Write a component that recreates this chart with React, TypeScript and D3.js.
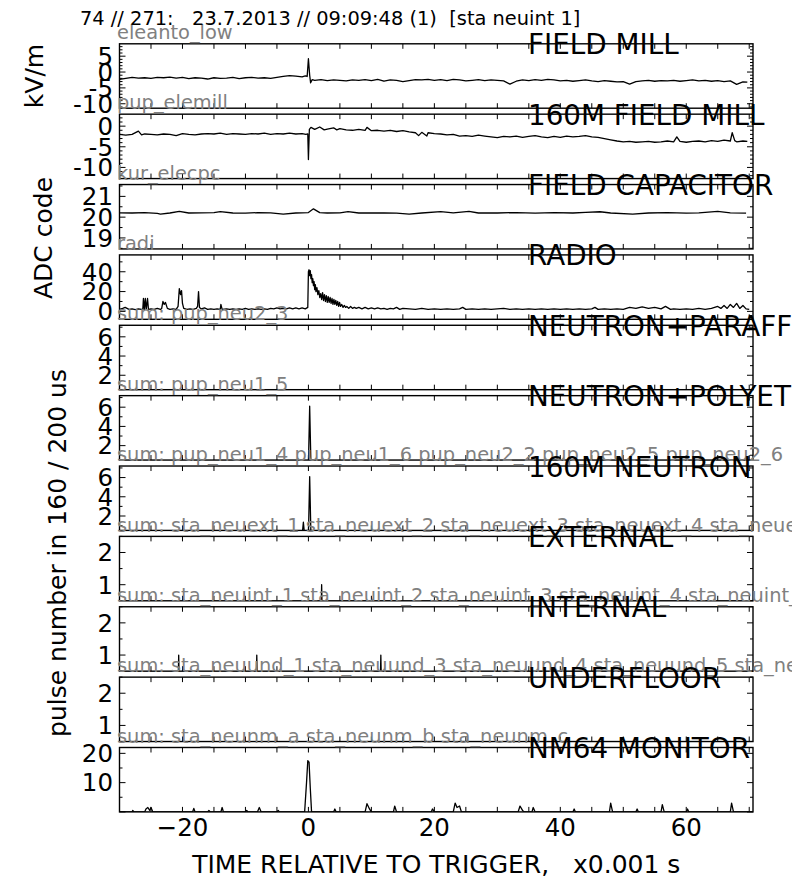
import React from 'react';
import * as d3 from 'd3';

// ---------- layout constants ----------
const W = 792;
const H = 882;
const X0 = 119.5;
const X1 = 753;
const T_DOMAIN: [number, number] = [-30, 70.6];
const PANEL_TOP0 = 43.8;
const PANEL_STEP = 70.37;
const PANEL_H = 64.4;

// ---------- text ----------
const headerText = '74 // 271:   23.7.2013 // 09:09:48 (1)  [sta neuint 1]';
const panelTitles = [
  'FIELD MILL', '160M FIELD MILL', 'FIELD CAPACITOR', 'RADIO', 'NEUTRON+PARAFF',
  'NEUTRON+POLYET', '160M NEUTRON', 'EXTERNAL', 'INTERNAL', 'UNDERFLOOR', 'NM64 MONITOR',
];
const channelLabels = [
  'eleanto_low',
  'pup_elemill',
  'kur_elecpc',
  'radi',
  'sum: pup_neu2_3',
  'sum: pup_neu1_5',
  'sum: pup_neu1_4 pup_neu1_6 pup_neu2_2 pup_neu2_5 pup_neu2_6',
  'sum: sta_neuext_1 sta_neuext_2 sta_neuext_3 sta_neuext_4 sta_neuext_5',
  'sum: sta_neuint_1 sta_neuint_2 sta_neuint_3 sta_neuint_4 sta_neuint_5',
  'sum: sta_neuund_1 sta_neuund_3 sta_neuund_4 sta_neuund_5 sta_neuund_6',
  'sum: sta_neunm_a sta_neunm_b sta_neunm_c',
];
const xTickValues = [-20, 0, 20, 40, 60];
const xLabel = 'TIME RELATIVE TO TRIGGER,   x0.001 s';

// ---------- y axes ----------
const yDomains: [number, number][] = [
  [-11.4, 8.9], [-12.7, 2.9], [18.47, 21.57], [-8, 57], [0.5, 7.2],
  [0.5, 7.2], [0.5, 7.2], [0.5, 2.5], [0.5, 2.5], [0.5, 2.5], [0, 22],
];
const yTickValues = [
  [5, 0, -5, -10], [0, -5, -10], [21, 20, 19], [40, 20, 0], [6, 4, 2],
  [6, 4, 2], [6, 4, 2], [2, 1], [2, 1], [2, 1], [20, 10],
];
const yMajorStep = [5, 5, 1, 20, 2, 2, 2, 1, 1, 1, 10];
const yMinorStep = [1, 1, 0.5, 10, 1, 1, 1, 0.5, 0.5, 0.5, 5];

// ---------- data ----------
const fieldMillT = [-30, -29, -28, -27, -26, -25, -24, -23, -22, -21, -20, -19, -18, -17, -16, -15, -14, -13, -12, -11, -10, -9, -8, -7, -6, -5, -4, -3, -2, -1, -0.5, -0.2, 0, 0.2, 0.35, 0.6, 1, 2, 3, 4, 5, 6, 7, 8, 9, 10, 11, 12, 13, 14, 15, 16, 17, 18, 19, 20, 21, 22, 23, 24, 25, 26, 27, 28, 29, 30, 31, 32, 33, 34, 35, 36, 37, 38, 39, 40, 41, 42, 43, 44, 45, 46, 47, 48, 49, 50, 51, 52, 53, 54, 55, 56, 57, 58, 59, 60, 61, 62, 63, 64, 65, 66, 67, 68, 69, 69.7];
const fieldMillV = [-2.3, -2.0, -1.7, -1.9, -1.8, -2.0, -1.7, -1.8, -1.6, -1.9, -1.7, -2.1, -1.8, -1.9, -2.2, -1.8, -2.0, -1.9, -1.7, -2.1, -1.8, -1.7, -1.9, -1.8, -2.0, -1.7, -1.4, -1.1, -1.3, -1.5, -1.2, -1.4, 4.2, -1.0, -3.4, -2.4, -2.6, -2.4, -2.7, -2.5, -2.6, -2.8, -2.5, -2.6, -2.4, -2.7, -2.3, -2.9, -2.5, -2.6, -3.0, -2.7, -2.4, -2.5, -2.3, -2.6, -2.4, -2.7, -2.3, -2.5, -2.8, -2.6, -2.4, -2.7, -2.5, -2.6, -2.8, -3.8, -2.9, -2.5, -2.7, -2.4, -2.6, -2.3, -2.5, -2.8, -2.6, -2.9, -2.7, -2.5, -2.8, -3.0, -2.7, -2.9, -3.1, -3.0, -3.8, -3.0, -2.8, -2.6, -2.9, -2.7, -2.8, -2.6, -2.9, -2.7, -2.5, -2.8, -2.6, -2.9, -2.7, -3.0, -2.8, -3.9, -3.1, -3.2];

const mill160T = [-30, -29, -28, -27, -26.5, -26, -25, -24, -23, -22, -21, -20, -19, -18, -17, -16, -15, -14, -13, -12, -11, -10, -9, -8, -7, -6, -5, -4, -3, -2, -1, -0.4, -0.1, 0, 0.15, 0.4, 1, 1.8, 2.5, 3, 4, 4.5, 5, 6, 7, 8, 9, 9.3, 10, 11, 12, 13, 14, 15, 16, 17, 17.5, 18, 18.8, 19, 20, 21, 22, 23, 24, 25, 26, 27, 28, 29, 30, 31, 32, 33, 34, 35, 36, 37, 38, 39, 40, 41, 42, 43, 44, 45, 46, 47, 48, 49, 50, 51, 52, 53, 54, 55, 56, 57, 58, 58.5, 59, 60, 61, 62, 63, 64, 65, 66, 67, 67.3, 67.7, 68, 69, 69.7];
const mill160V = [-2.0, -2.2, -2.0, -1.2, -2.1, -1.9, -2.0, -2.1, -1.9, -2.0, -2.3, -1.8, -2.0, -2.1, -1.9, -1.8, -1.9, -1.7, -2.0, -1.8, -1.9, -2.0, -1.8, -1.9, -1.7, -2.0, -1.8, -1.9, -1.7, -1.9, -1.8, -2.0, -1.9, -8.1, -0.8, -0.3, -0.8, -0.2, -0.9, -0.7, -0.4, -0.9, -0.6, -0.9, -1.0, -0.8, -1.0, -0.3, -1.1, -1.0, -1.2, -1.0, -1.3, -1.1, -1.4, -1.6, -2.3, -1.5, -2.4, -1.6, -1.8, -1.9, -2.1, -2.0, -2.4, -2.3, -2.5, -2.2, -2.4, -2.6, -2.8, -2.5, -2.6, -2.4, -2.7, -2.5, -2.3, -2.6, -2.8, -2.5, -2.7, -2.4, -2.6, -2.5, -2.3, -2.6, -2.7, -3.0, -3.3, -3.6, -3.8, -3.7, -3.9, -3.8, -3.7, -3.9, -3.8, -3.6, -3.8, -2.6, -3.7, -3.9, -3.7, -3.6, -3.8, -3.5, -3.7, -3.4, -3.6, -1.6, -3.5, -3.8, -3.6, -3.7];

const capacitorT = [-30, -28, -26, -24, -23.5, -22, -20.5, -19, -17, -15, -14, -12, -10, -8, -6, -4, -2, 0, 0.8, 1.8, 3, 5, 6.3, 8, 10, 12, 14, 16, 18, 21, 23, 25.5, 27, 30, 33, 36, 39, 42, 44, 46.3, 48, 51.5, 54, 57, 60, 62, 65, 67, 69.5];
const capacitorV = [20.21, 20.2, 20.22, 20.18, 20.15, 20.2, 20.28, 20.2, 20.21, 20.22, 20.27, 20.2, 20.19, 20.22, 20.21, 20.15, 20.2, 20.22, 20.4, 20.22, 20.2, 20.21, 20.27, 20.2, 20.21, 20.2, 20.19, 20.15, 20.2, 20.27, 20.21, 20.28, 20.2, 20.2, 20.22, 20.19, 20.22, 20.2, 20.23, 20.26, 20.2, 20.15, 20.2, 20.22, 20.19, 20.21, 20.28, 20.21, 20.19];

const radioT = [
  -30, -29.5, -29.1, -28.5, -28, -27.5, -27, -26.5, -26.3, -26.2, -26.05, -25.9, -25.75, -25.55, -25.4, -25, -24.5, -24, -23.5, -23.3, -23.1, -22.9, -22.7, -22.4, -22, -21.5, -21, -20.7, -20.5, -20.3, -20.15, -20, -19.8, -19.3, -18.8, -18.3, -17.8, -17.6, -17.45, -17.3, -17, -16.5, -16, -15.5, -15, -14.5, -14, -13.9, -13.7, -13, -12.5, -12, -11.5, -11, -10.5, -10, -9.5, -9, -8.5, -8, -7.5, -7, -6.5, -6, -5.5, -5, -4.5, -4, -3.5, -3, -2.5, -2, -1.5, -1, -0.5, -0.1,
  0, 0.1, 0.2, 0.3, 0.4, 0.5, 0.6, 0.7, 0.8, 0.9, 1.0, 1.1, 1.2, 1.35, 1.5, 1.65, 1.8, 1.95, 2.1, 2.25, 2.4, 2.55, 2.7, 2.85, 3.0, 3.15, 3.3, 3.45, 3.6, 3.75, 3.9, 4.05, 4.2, 4.35, 4.5, 4.65, 4.8, 4.95, 5.1, 5.3, 5.5, 5.7, 5.9, 6.1, 6.4, 6.7, 7, 7.3, 7.6, 8, 8.5, 9, 9.5, 10,
  10.5, 11, 11.5, 12, 12.5, 13, 13.5, 14, 14.5, 15, 16, 17, 18, 19, 20, 21, 22, 23, 24, 24.5, 25, 26, 27, 28, 29, 30, 31, 32, 33, 34, 35, 36, 37, 38, 39, 40, 41, 42, 43, 44, 45, 45.5, 46, 47, 48, 49, 50, 51, 52, 53, 54, 55, 56, 56.7, 57.5, 58, 59, 60, 61, 62, 63, 64, 65, 65.5, 66, 66.5, 67, 67.5, 68, 68.5, 69, 69.5, 70,
];
const radioV = [
  2, 3, 4, 2, 2.5, 1.8, 2.5, 2, 2, 13, 2, 13, 2, 13, 2, 2.5, 2, 3, 2, 3, 10, 7, 9, 3, 2, 2.5, 2, 5, 23, 17, 21, 8, 3, 2, 2.5, 2, 3, 5, 20, 4, 2.5, 3.5, 2, 2.5, 2, 2.5, 2, 7, 2, 2.5, 2, 2.5, 2, 2.5, 2, 3, 2, 2.5, 2, 2.5, 2, 2.5, 2, 3, 2.5, 3.5, 2.5, 3, 2.5, 3.5, 2.5, 3.5, 2.5, 3.5, 2.5, 4,
  40, 42, 36, 41, 33, 37, 29, 33, 26, 30, 22, 27, 20, 24, 17, 21, 14, 18, 12, 19, 11, 17, 10, 16, 9, 15, 9, 14, 8, 13, 7, 12, 7, 11, 6, 10, 5, 9, 5, 7, 4, 6, 4, 5, 3, 5, 3, 4, 3, 4, 2.5, 4, 2.5, 3.5,
  2.5, 3.5, 2.5, 3, 2, 3, 2.5, 4, 2, 3, 2.5, 2, 3, 2, 2.5, 2, 2.5, 2, 2.5, 4, 2, 2.5, 2, 2.5, 2, 2.5, 3, 2, 2.5, 2, 2.5, 2, 2.5, 2, 2.5, 2, 2.5, 2, 2.5, 2, 2.5, 4, 2, 2.5, 2, 2.5, 2, 4, 3, 4.5, 3, 4, 2.5, 5, 2, 2.5, 2, 2.5, 2, 3, 2, 3, 5, 3, 6, 3, 7, 4, 8, 3, 6, 2.5, 2,
];

const neuPolyT = [-30, 0, 0.2, 0.4, 70.6];
const neuPolyV = [0, 0, 6.1, 0, 0];

const neu160T = [-30, -1.0, -0.8, -0.6, 0, 0.2, 0.4, 70.6];
const neu160V = [0, 0, 1.35, 0, 0, 6.1, 0, 0];

const externalT = [-30, 2.0, 2.1, 2.2, 70.6];
const externalV = [0, 0, 1, 0, 0];

const internalT = [-30, -20.7, -20.6, -20.5, -8.3, -8.2, -8.1, 11.4, 11.5, 11.6, 70.6];
const internalV = [0, 0, 1, 0, 0, 1, 0, 0, 1, 0, 0];

const nm64T = [-30, -28, -27.9, -27.7, -26, -25.8, -25.5, -25.2, -25, -24.7, -22, -18.4, -18.2, -18, -16, -15.8, -15.6, -13.9, -13.7, -13.5, -10, -9.8, -9.6, -8.1, -7.8, -7.5, -5, -4.8, -4.6, -0.6, -0.3, -0.1, 0.1, 0.3, 0.5, 4, 4.2, 4.4, 9, 9.3, 9.7, 10, 13.5, 13.7, 14, 19.5, 19.7, 20, 23, 23.3, 23.6, 24, 24.3, 33.3, 33.6, 34, 34.3, 35.5, 35.7, 36, 42, 42.2, 42.4, 47.8, 48, 48.3, 52, 52.2, 52.4, 56, 56.2, 56.5, 60, 60.2, 60.4, 67, 67.2, 67.5, 70.6];
const nm64V = [0, 0, 0.5, 0, 0, 1, 1.5, 0.5, 1.5, 0, 0, 0, 1.2, 0, 0, 0.5, 0, 0, 1.5, 0, 0, 0.5, 0, 0, 1.5, 0, 0, 0.5, 0, 0, 10, 17.5, 17, 8, 0, 0, 1, 0, 0, 2.8, 1, 0, 0, 2, 0, 0, 1, 0, 0, 3, 1.5, 2, 0, 0, 2, 0.5, 0, 0, 1.5, 0, 0, 1, 0, 0, 3, 0, 0, 1, 0, 0, 2.5, 0, 0, 1, 0, 0, 3, 0, 0];

const seriesT: (number[] | null)[] = [fieldMillT, mill160T, capacitorT, radioT, null, neuPolyT, neu160T, externalT, internalT, null, nm64T];
const seriesV: (number[] | null)[] = [fieldMillV, mill160V, capacitorV, radioV, null, neuPolyV, neu160V, externalV, internalV, null, nm64V];

const FONT = 'DejaVu Sans, Verdana, sans-serif';

function stepTicks(domain: [number, number], step: number): number[] {
  const out: number[] = [];
  const lo = Math.min(domain[0], domain[1]);
  const hi = Math.max(domain[0], domain[1]);
  const start = Math.ceil(lo / step - 1e-9);
  for (let k = start; k * step <= hi + 1e-9; k++) out.push(+(k * step).toFixed(6));
  return out;
}

function fmtY(v: number): string {
  return v < 0 ? '-' + Math.abs(v) : String(v);
}

export default function App() {
  const x = d3.scaleLinear().domain(T_DOMAIN).range([X0, X1]);
  const xMinor = stepTicks(T_DOMAIN, 5);

  return (
    <svg
      width={W}
      height={H}
      viewBox={`0 0 ${W} ${H}`}
      style={{ position: 'absolute', left: 0, top: 0, background: '#fff' }}
      fontFamily={FONT}
    >
      <rect x={0} y={0} width={W} height={H} fill="#fff" />
      <defs>
        {panelTitles.map((_, i) => {
          const top = PANEL_TOP0 + i * PANEL_STEP;
          return (
            <clipPath id={`clip${i}`} key={i}>
              <rect x={X0} y={top} width={X1 - X0} height={PANEL_H} />
            </clipPath>
          );
        })}
      </defs>

      {panelTitles.map((title, i) => {
        const top = PANEL_TOP0 + i * PANEL_STEP;
        const bottom = top + PANEL_H;
        const y = d3.scaleLinear().domain(yDomains[i]).range([bottom, top]);
        const minor = stepTicks(yDomains[i], yMinorStep[i]);
        const T = seriesT[i];
        const V = seriesV[i];
        let path: string | null = null;
        if (T && V) {
          const pts: [number, number][] = T.map((t, k) => [t, V[k]]);
          path = d3.line<[number, number]>().x(d => x(d[0])).y(d => y(d[1]))(pts);
        }
        return (
          <g key={i}>
            {path && (
              <path d={path} fill="none" stroke="#000" strokeWidth={1.3} strokeLinejoin="round" clipPath={`url(#clip${i})`} />
            )}
            {xMinor.map(t => (
              <g key={`xt${t}`}>
                <line x1={x(t)} x2={x(t)} y1={top} y2={top + 5} stroke="#000" strokeWidth={1} />
                <line x1={x(t)} x2={x(t)} y1={bottom} y2={bottom - 5} stroke="#000" strokeWidth={1} />
              </g>
            ))}
            {minor.map(v => {
              const isMajor = Math.abs(v / yMajorStep[i] - Math.round(v / yMajorStep[i])) < 1e-6;
              const len = isMajor ? 6 : 3;
              return (
                <g key={`yt${v}`}>
                  <line x1={X0} x2={X0 + len} y1={y(v)} y2={y(v)} stroke="#000" strokeWidth={1} />
                  <line x1={X1} x2={X1 - len} y1={y(v)} y2={y(v)} stroke="#000" strokeWidth={1} />
                </g>
              );
            })}
            <rect x={X0} y={top} width={X1 - X0} height={PANEL_H} fill="none" stroke="#000" strokeWidth={1.4} />
            {yTickValues[i].map(v => (
              <text key={`yl${v}`} x={113} y={y(v)} dy="0.36em" textAnchor="end" fontSize={24.5} fill="#000">
                {fmtY(v)}
              </text>
            ))}
          </g>
        );
      })}

      {channelLabels.map((lab, i) => {
        const top = PANEL_TOP0 + i * PANEL_STEP;
        return (
          <text key={`cl${i}`} x={117} y={top - 4.8} fontSize={19.4} fill="#808080" style={{ whiteSpace: 'pre' }}>
            {lab}
          </text>
        );
      })}

      {panelTitles.map((title, i) => {
        const top = PANEL_TOP0 + i * PANEL_STEP;
        return (
          <text key={`pt${i}`} x={528} y={top + 10.5} fontSize={27.8} fill="#000">
            {title}
          </text>
        );
      })}

      {xTickValues.map(t => (
        <text key={`xl${t}`} x={x(t)} y={836} textAnchor="middle" fontSize={24.5} fill="#000">
          {t < 0 ? '\u2212' + Math.abs(t) : String(t)}
        </text>
      ))}
      <text x={(X0 + X1) / 2} y={873} textAnchor="middle" fontSize={25} fill="#000" style={{ whiteSpace: 'pre' }}>
        {xLabel}
      </text>

      <text transform="translate(43,76) rotate(-90)" textAnchor="middle" fontSize={25} fill="#000">kV/m</text>
      <text transform="translate(52,238) rotate(-90)" textAnchor="middle" fontSize={25} fill="#000">ADC code</text>
      <text transform="translate(66,553) rotate(-90)" textAnchor="middle" fontSize={25} fill="#000">pulse number in 160 / 200 us</text>

      <text x={80} y={25} fontSize={19.4} fill="#000" style={{ whiteSpace: 'pre' }}>
        {headerText}
      </text>
    </svg>
  );
}
